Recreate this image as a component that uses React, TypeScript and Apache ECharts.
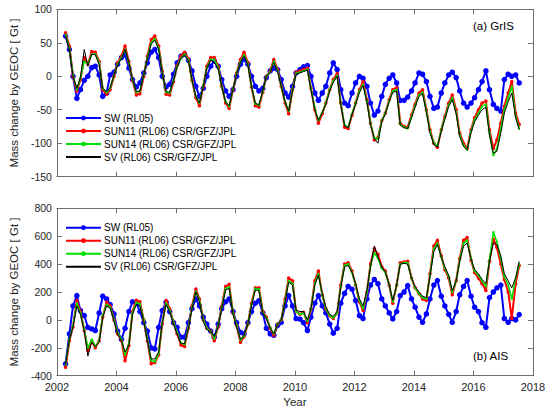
import React, { useEffect, useRef } from "react";
import * as echarts from "echarts";

const TIME = [
  2002.29, 2002.42, 2002.54, 2002.67, 2002.79, 2002.92,
  2003.04, 2003.17, 2003.29, 2003.42, 2003.54, 2003.67, 2003.79, 2003.92,
  2004.04, 2004.17, 2004.29, 2004.42, 2004.54, 2004.67, 2004.79, 2004.92,
  2005.04, 2005.17, 2005.29, 2005.42, 2005.54, 2005.67, 2005.79, 2005.92,
  2006.04, 2006.17, 2006.29, 2006.42, 2006.54, 2006.67, 2006.79, 2006.92,
  2007.04, 2007.17, 2007.29, 2007.42, 2007.54, 2007.67, 2007.79, 2007.92,
  2008.04, 2008.17, 2008.29, 2008.42, 2008.54, 2008.67, 2008.79, 2008.92,
  2009.04, 2009.17, 2009.29, 2009.42, 2009.54, 2009.67, 2009.79, 2009.92,
  2010.04, 2010.17, 2010.29, 2010.42, 2010.54, 2010.67, 2010.79, 2010.92,
  2011.04, 2011.17, 2011.29, 2011.42, 2011.54, 2011.67, 2011.79, 2011.92,
  2012.04, 2012.17, 2012.29, 2012.42, 2012.54, 2012.67, 2012.79, 2012.92,
  2013.04, 2013.17, 2013.29, 2013.42, 2013.54, 2013.67, 2013.79, 2013.92,
  2014.04, 2014.17, 2014.29, 2014.42, 2014.54, 2014.67, 2014.79, 2014.92,
  2015.04, 2015.17, 2015.29, 2015.42, 2015.54, 2015.67, 2015.79, 2015.92,
  2016.04, 2016.17, 2016.29, 2016.42, 2016.54, 2016.67, 2016.79, 2016.92,
  2017.04, 2017.17, 2017.29, 2017.42, 2017.54,
];

const SERIES_NAMES = [
  "SW (RL05)",
  "SUN11 (RL06) CSR/GFZ/JPL",
  "SUN14 (RL06) CSR/GFZ/JPL",
  "SV (RL06) CSR/GFZ/JPL",
];

const X_TICKS = [2002, 2018, 2];
const GRIS_Y_TICKS = [-150, 100, 50];
const AIS_Y_TICKS = [-400, 800, 200];

// (a) GrIS
const GRIS_SW = [
  60, 40, 0, -33, -20, -6,
  0, 13, 15, 2, -30, -25, 2, 6,
  18, 28, 32, 12, -5, -16, -10, 5,
  20, 36, 40, 28, 0, -16, -12, 3,
  20, 30, 33, 24, 8, -15, -30, -18,
  0, 15, 23, 15, -5, -22, -30, -20,
  0, 18, 25, 18, 0, -15, -22, -18,
  -2, 8, 12, 10, -5, -25, -31, -15,
  5, 10, 14, 16, 0, -25, -36, -25,
  -15, 5, 20, 10, -20, -40, -44, -25,
  -10, 0, -3, -15, -40, -58, -52, -30,
  -12, -3, 2, -10, -36, -36, -31, -22,
  -10, 5, 3, -8, -30, -48, -46, -25,
  -10, 2, 6, -2, -22, -40, -46, -40,
  -32, -20, -8, 8, -20, -42, -48, -52,
  -5, 3, 0, 2, -10,
];
const GRIS_SUN11 = [
  65, 45, 0, -22, -5, 28,
  18, 37, 36, 22, -20, -27, -20, 0,
  20, 30, 45, 22, -6, -28, -26, 0,
  30, 55, 60, 45, 8, -27, -28, -8,
  16, 30, 36, 26, -6, -32, -44, -15,
  15, 28, 28, 15, -15, -40, -48, -20,
  5, 25, 36, 20, -16, -44, -46, -24,
  0, 8, 25, 10, -15, -40, -56, -20,
  6, 8, 10, 12, -18, -50, -70, -56,
  -40, -20, -5, 4, -40, -76, -78, -58,
  -40, -20, -8, -35, -70, -95, -92, -66,
  -55, -35, -20, -17, -70, -75, -76, -58,
  -42, -25, -20, -50, -80, -100, -106, -80,
  -60, -40, -28, -50, -85, -100, -108, -80,
  -62, -50, -40, -37, -80, -108, -95, -70,
  -45, -25, -8, -55, -72,
];
const GRIS_SUN14 = [
  62, 42, 2, -20, -3, 22,
  18, 33, 33, 20, -18, -24, -18, 2,
  18, 28, 40, 20, -5, -24, -22, 2,
  28, 50, 56, 42, 6, -24, -25, -6,
  15, 27, 33, 24, -6, -30, -40, -14,
  13, 25, 25, 13, -15, -38, -45, -19,
  4, 22, 32, 18, -15, -41, -43, -23,
  0, 7, 22, 8, -15, -38, -52, -20,
  4, 6, 8, 10, -18, -48, -66, -54,
  -40, -20, -7, 1, -40, -73, -76, -56,
  -40, -22, -12, -37, -70, -92, -94, -66,
  -55, -37, -22, -20, -72, -76, -78, -60,
  -44, -28, -24, -52, -82, -100, -104, -80,
  -62, -43, -32, -54, -88, -103, -110, -82,
  -65, -55, -45, -42, -85, -118, -108, -78,
  -50, -32, -15, -60, -78,
];
const GRIS_SV = [
  60, 40, 0, -18, -2, 40,
  15, 33, 32, 18, -18, -23, -17, 2,
  17, 27, 40, 20, -4, -23, -22, 2,
  26, 48, 54, 40, 5, -23, -24, -6,
  14, 27, 32, 23, -5, -30, -40, -15,
  12, 24, 20, 12, -15, -38, -44, -19,
  3, 21, 30, 17, -15, -40, -43, -22,
  0, 6, 20, 7, -15, -38, -52, -22,
  3, 5, 7, 9, -20, -50, -66, -54,
  -42, -22, -9, 0, -42, -74, -77, -57,
  -42, -24, -14, -38, -72, -93, -100, -68,
  -56, -38, -24, -22, -73, -77, -78, -62,
  -46, -30, -26, -54, -84, -102, -106, -82,
  -64, -45, -35, -56, -90, -105, -110, -84,
  -68, -58, -50, -46, -88, -115, -112, -85,
  -55, -38, -25, -62, -80,
];

// (b) AIS
const AIS_SW = [
  -315, -100, 100, 174, 67, 31,
  -53, -65, -76, 50, 170, 150, 110, 43,
  -80, -140, -60, 60, 130, 120, 60, -20,
  -80, -200, -208, -53, 67, 127, 60, -20,
  -53, -124, -124, -20, 80, 150, 100, 20,
  -30, -80, -124, -30, 80, 130, 150, 60,
  -20, -90, -100, -20, 60, 120, 139, 50,
  -60, -100, -110, -40, -17, 100, 174, 100,
  10, 5, -20, -76, 20, 120, 174, 100,
  50, -30, -95, -60, 120, 190, 240, 220,
  139, 30, 10, 150, 250, 290, 260, 150,
  100, 50, 7, 60, 174, 200, 246, 150,
  91, 20, -17, 43, 150, 250, 282, 170,
  100, 40, -17, 60, 180, 240, 282, 170,
  91, 60, -20, -53, 160, 200, 230, 250,
  10, -17, 10, 0, 38,
];
const AIS_SUN11 = [
  -340, -150, -50, 139, 60, -76,
  -220, -150, -200, -150, 20, 127, 100, 0,
  -100, -148, -292, -184, 60, 140, 130, 0,
  -150, -315, -305, -250, -30, 139, 80, -20,
  -100, -180, -190, -60, 100, 222, 150, 0,
  -60, -80, -150, -50, 100, 240, 255, 50,
  -40, -160, -120, -30, 120, 230, 230, 60,
  20, -60, -110, -30, 0, 150, 300, 280,
  60, 40, 55, -20, 80, 280, 350, 180,
  80, 30, 10, 50, 250, 400, 410, 350,
  250, 130, 67, 200, 400, 510, 470, 380,
  350, 250, 120, 250, 410, 415, 420, 300,
  230, 190, 150, 140, 330, 530, 570, 460,
  360, 300, 180, 280, 440, 570, 590, 430,
  340, 300, 260, 210, 420, 580, 520, 400,
  290, 200, 10, 260, 390,
];
const AIS_SUN14 = [
  -320, -140, -40, 120, 50, -70,
  -200, -140, -190, -150, 30, 110, 90, 0,
  -90, -140, -250, -170, 50, 125, 115, 0,
  -140, -290, -300, -240, -20, 120, 70, -20,
  -90, -165, -175, -55, 90, 205, 140, 0,
  -60, -80, -135, -45, 90, 225, 235, 50,
  -40, -145, -115, -30, 110, 225, 220, 55,
  15, -55, -100, -30, 0, 140, 280, 260,
  60, 40, 50, -10, 80, 260, 330, 180,
  80, 30, 15, 50, 240, 390, 400, 340,
  250, 140, 80, 200, 390, 480, 440, 370,
  340, 250, 130, 250, 400, 410, 410, 300,
  230, 190, 160, 150, 320, 510, 550, 450,
  370, 310, 200, 280, 430, 550, 570, 440,
  350, 320, 280, 240, 430, 630, 560, 440,
  310, 250, 150, 300, 400,
];
const AIS_SV = [
  -320, -140, -50, 100, 40, -80,
  -260, -160, -190, -160, 20, 100, 85, -10,
  -100, -150, -230, -180, 40, 110, 100, -10,
  -150, -280, -280, -230, -20, 110, 60, -30,
  -100, -170, -170, -60, 80, 200, 130, -10,
  -70, -80, -120, -50, 80, 215, 225, 40,
  -50, -140, -110, -30, 100, 215, 210, 50,
  10, -60, -100, -30, 0, 130, 270, 250,
  70, 60, 60, 0, 80, 250, 320, 190,
  90, 40, 25, 60, 230, 380, 390, 340,
  260, 150, 100, 210, 380, 530, 450, 380,
  340, 250, 140, 250, 400, 405, 400, 300,
  240, 200, 170, 160, 310, 490, 540, 450,
  380, 320, 210, 280, 420, 530, 550, 440,
  360, 330, 290, 260, 420, 550, 540, 460,
  330, 280, 230, 300, 420,
];

const FONT = "'Liberation Sans', Arial, Helvetica, sans-serif";
const AXIS_COLOR = "#262626";
const FRAME_COLOR = "#6e6e6e";

function pairs(values: number[]) {
  return TIME.map((t, i) => [t, values[i]]);
}

const STYLES = [
  { color: "#0000ff", width: 2, symbol: "circle", size: 5.5 },
  { color: "#ff0000", width: 2, symbol: "circle", size: 3.5 },
  { color: "#00e000", width: 1.5, symbol: "circle", size: 2 },
  { color: "#000000", width: 1, symbol: "none", size: 0 },
];

function makeSeries(grid: number, sets: number[][]) {
  return sets.map((vals, k) => ({
    type: "line",
    name: SERIES_NAMES[k],
    xAxisIndex: grid * 2,
    yAxisIndex: grid * 2,
    data: pairs(vals),
    symbol: STYLES[k].symbol,
    symbolSize: STYLES[k].size,
    showSymbol: STYLES[k].symbol !== "none",
    lineStyle: { color: STYLES[k].color, width: STYLES[k].width },
    itemStyle: { color: STYLES[k].color },
    z: 2 + k,
    silent: true,
  }));
}

function xAxis(grid: number, position: string, labels: boolean) {
  return {
    type: "value",
    gridIndex: grid,
    position,
    min: X_TICKS[0],
    max: X_TICKS[1],
    interval: X_TICKS[2],
    axisLine: { show: true, onZero: false, lineStyle: { color: FRAME_COLOR, width: 1 } },
    axisTick: { show: true, inside: true, length: 5, lineStyle: { color: FRAME_COLOR } },
    axisLabel: {
      show: labels,
      color: AXIS_COLOR,
      fontSize: 11,
      fontFamily: FONT,
      margin: 6,
      formatter: (v: number) => String(v),
    },
    splitLine: { show: false },
    name: labels ? "Year" : "",
    nameLocation: "middle",
    nameGap: 20,
    nameTextStyle: { color: AXIS_COLOR, fontSize: 11.5, fontFamily: FONT },
  };
}

function yAxis(grid: number, position: string, labels: boolean, ticks: number[]) {
  return {
    type: "value",
    gridIndex: grid,
    position,
    min: ticks[0],
    max: ticks[1],
    interval: ticks[2],
    axisLine: { show: true, onZero: false, lineStyle: { color: FRAME_COLOR, width: 1 } },
    axisTick: { show: true, inside: true, length: 5, lineStyle: { color: FRAME_COLOR } },
    axisLabel: {
      show: labels,
      color: AXIS_COLOR,
      fontSize: 10.5,
      fontFamily: FONT,
      margin: 5,
      formatter: (v: number) => String(v),
    },
    splitLine: { show: false },
    name: labels ? "Mass change by GEOC [ Gt ]" : "",
    nameLocation: "middle",
    nameGap: 30,
    nameTextStyle: { color: AXIS_COLOR, fontSize: 11.5, fontFamily: FONT },
  };
}

function legend(top: number) {
  return {
    data: [
      { name: SERIES_NAMES[0] },
      { name: SERIES_NAMES[1] },
      { name: SERIES_NAMES[2] },
      { name: SERIES_NAMES[3], itemStyle: { opacity: 0 } },
    ],
    orient: "vertical",
    left: 65,
    top,
    padding: 0,
    itemWidth: 35,
    itemHeight: 6,
    itemGap: 1,
    selectedMode: false,
    textStyle: {
      color: "#000",
      fontSize: 10,
      lineHeight: 12,
      fontFamily: FONT,
      padding: [0, 0, 0, -2],
    },
  };
}

export default function App() {
  const ref = useRef<HTMLDivElement>(null);
  useEffect(() => {
    if (!ref.current) return;
    const chart = echarts.init(ref.current, undefined, { renderer: "svg" });
    chart.setOption({
      animation: false,
      backgroundColor: "#ffffff",
      textStyle: { fontFamily: FONT },
      grid: [
        { left: 50.7, top: 9.3, width: 482.2, height: 167.4 },
        { left: 50.7, top: 208.3, width: 482.2, height: 167.4 },
      ],
      xAxis: [
        xAxis(0, "bottom", false),
        xAxis(0, "top", false),
        xAxis(1, "bottom", true),
        xAxis(1, "top", false),
      ],
      yAxis: [
        yAxis(0, "left", true, GRIS_Y_TICKS),
        yAxis(0, "right", false, GRIS_Y_TICKS),
        yAxis(1, "left", true, AIS_Y_TICKS),
        yAxis(1, "right", false, AIS_Y_TICKS),
      ],
      legend: [legend(112), legend(221.7)],
      series: [
        ...makeSeries(0, [GRIS_SW, GRIS_SUN11, GRIS_SUN14, GRIS_SV]),
        ...makeSeries(1, [AIS_SW, AIS_SUN11, AIS_SUN14, AIS_SV]),
      ],
      graphic: [
        {
          type: "text",
          x: 473,
          y: 26,
          style: {
            text: "(a) GrIS",
            fill: "#000",
            font: `11.5px ${FONT}`,
            verticalAlign: "middle",
          },
        },
        {
          type: "text",
          x: 473,
          y: 356,
          style: {
            text: "(b) AIS",
            fill: "#000",
            font: `11.5px ${FONT}`,
            verticalAlign: "middle",
          },
        },
      ],
    });
    return () => chart.dispose();
  }, []);
  return (
    <div
      ref={ref}
      style={{ position: "absolute", left: 0, top: 0, width: 550, height: 411, background: "#fff" }}
    />
  );
}
